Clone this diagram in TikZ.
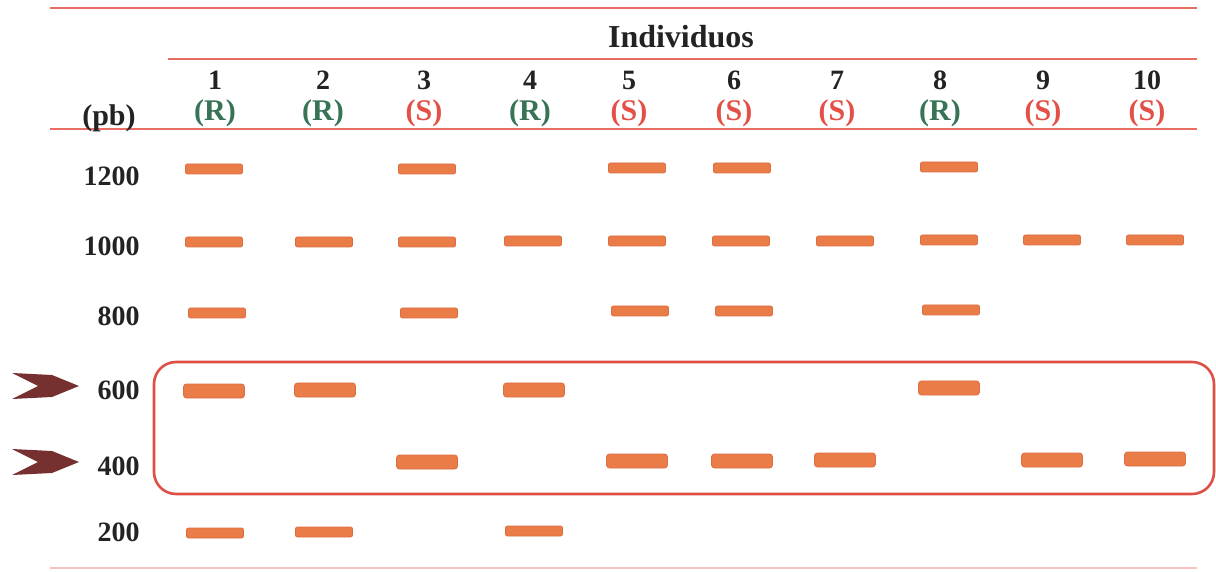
\documentclass[tikz,border=0pt]{standalone}
\usepackage{fontspec}
\setmainfont{Liberation Serif}
\begin{document}
\definecolor{rule}{RGB}{232,110,100}
\definecolor{bandfill}{RGB}{234,124,72}
\definecolor{banddraw}{RGB}{220,108,66}
\definecolor{rgreen}{RGB}{55,115,85}
\definecolor{sred}{RGB}{226,80,70}
\definecolor{boxred}{RGB}{222,80,70}
\definecolor{chev}{RGB}{118,48,48}
\definecolor{txt}{RGB}{35,35,35}
\begin{tikzpicture}[x=0.5pt,y=-0.5pt,
  lbl/.style={font=\fontsize{16}{17}\selectfont\bfseries, text=txt, inner sep=0pt},
  numlbl/.style={font=\fontsize{14}{15}\selectfont\bfseries, text=txt, inner sep=0pt},
  rowlbl/.style={font=\fontsize{14}{15}\selectfont\bfseries, text=txt, inner sep=0pt, anchor=east},
  R/.style={lbl, font=\fontsize{15}{16}\selectfont\bfseries, text=rgreen},
  S/.style={lbl, font=\fontsize{15}{16}\selectfont\bfseries, text=sred},
  band/.style={rectangle, rounded corners=1pt, fill=bandfill, draw=banddraw, line width=0.4pt, minimum width=28.5pt, minimum height=5pt, inner sep=0pt},
  bigband/.style={band, minimum width=30.5pt, minimum height=7pt, rounded corners=1.5pt},
  hrule/.style={draw=rule, line width=0.8pt},
  chevron/.style={fill=chev, draw=none}]
\useasboundingbox (0,0) rectangle (1216,572);
% rules
\draw[hrule] (50,8) -- (1197,8);
\draw[hrule] (168,59) -- (1197,59);
\draw[hrule] (50,129) -- (1197,129);
\draw[draw=rule!40, line width=0.6pt] (50,568) -- (1197,568);
% header
\node[lbl] (ind) at (681,37) {Individuos};
\node[lbl, font=\fontsize{15}{16}\selectfont\bfseries] (pb) at (109,118) {(pb)};
\foreach \n/\x/\t in {1/215/R,2/323/R,3/424/S,4/530/R,5/629/S,6/734/S,7/837/S,8/940/R,9/1043/S,10/1147/S}{
  \node[numlbl] (c\n) at (\x,80) {\n};
  \node[\t] (t\n) at (\x,113) {(\t)};
}
% row labels
\foreach \v/\y in {1200/176,1000/246,800/316,600/390,400/466,200/532}{
  \node[rowlbl] (r\v) at (140,\y) {\v};
}
% box
\draw[draw=boxred, line width=1.3pt, rounded corners=11pt] (154,362) rectangle (1214,494);
% chevrons
\fill[chevron] (12,373) -- (52,375) -- (79,386) -- (52,397) -- (12,399) -- (38,386) -- cycle;
\fill[chevron] (12,449) -- (52,451) -- (79,462) -- (52,473) -- (12,475) -- (38,462) -- cycle;
% bands 1200
\foreach \x/\y in {214/169,427/169,637/168,742/168,949/167}{\node[band] at (\x,\y) {};}
% bands 1000
\foreach \x/\y in {214/242,324/242,427/242,533/241,637/241,741/241,845/241,949/240,1052/240,1155/240}{\node[band] at (\x,\y) {};}
% bands 800
\foreach \x/\y in {217/313,429/313,640/311,744/311,951/310}{\node[band] at (\x,\y) {};}
% bands 600
\foreach \x/\y in {214/391,325/390,534/390,949/388}{\node[bigband] at (\x,\y) {};}
% bands 400
\foreach \x/\y in {427/462,637/461,742/461,845/460,1052/460,1155/459}{\node[bigband] at (\x,\y) {};}
% bands 200
\foreach \x/\y in {215/533,324/532,534/531}{\node[band] at (\x,\y) {};}
\end{tikzpicture}
\end{document}
